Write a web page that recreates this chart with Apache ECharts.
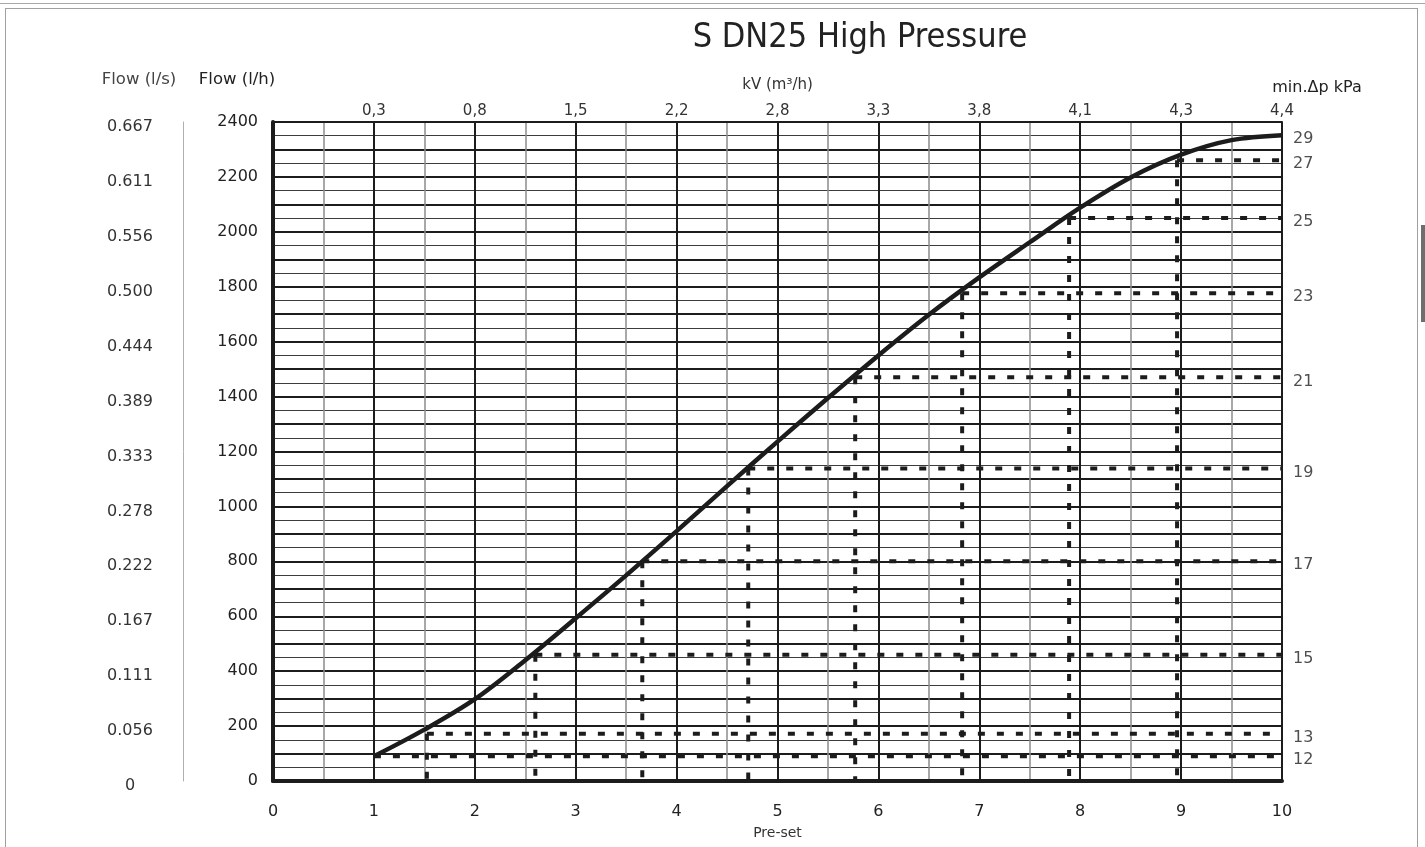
<!DOCTYPE html>
<html>
<head>
<meta charset="utf-8">
<title>S DN25 High Pressure</title>
<script src="https://cdn.jsdelivr.net/npm/echarts@6/dist/echarts.min.js"></script>
<style>
  html, body { margin: 0; padding: 0; background: #fff; overflow: hidden; }
  #topRule { position: absolute; left: 0; top: 3px; width: 1425px; height: 0; border-top: 1px solid #a8a8a8; }
  #frame { position: absolute; left: 5px; top: 8px; width: 1411px; height: 900px; border: 1px solid #a0a0a0; border-bottom: none; }
  #thumb { position: absolute; left: 1421px; top: 225px; width: 4px; height: 97px; background: #6e6e6e; }
  #chart { position: absolute; left: 0; top: 0; width: 1425px; height: 847px; }
</style>
</head>
<body>
<div id="topRule"></div>
<div id="frame"></div>
<div id="thumb"></div>
<div id="chart"></div>
<script>
// Flow curve: pre-set position vs flow (l/h)
const curvePreset = [1, 1.5, 2, 2.5, 3, 3.5, 4, 4.5, 5, 5.5, 6, 6.5, 7, 7.5, 8, 8.5, 9, 9.5, 10];
const curveFlow   = [90, 187, 298, 440, 593, 749, 910, 1074, 1236, 1395, 1550, 1698, 1834, 1962, 2088, 2198, 2281, 2334, 2352];

// Guide lines for each preset: start position, flow level, and min. Δp (kPa)
const guidePreset = [1, 1.525, 2.6, 3.66, 4.71, 5.77, 6.83, 7.89, 8.96];
const guideFlow   = [90, 172, 460, 800, 1138, 1470, 1776, 2050, 2261];
const guideDp     = [12, 13, 15, 17, 19, 21, 23, 25, 27];

// Δp at the fully open end of the curve
const endFlow = 2352;
const endDp = 29;

// Tick labels
const kvTicks = ['', '0,3', '0,8', '1,5', '2,2', '2,8', '3,3', '3,8', '4,1', '4,3', '4,4'];
const flowLsTicks = ['0', '0.056', '0.111', '0.167', '0.222', '0.278', '0.333', '0.389', '0.444', '0.500', '0.556', '0.611', '0.667'];

const FONT = '"DejaVu Sans", Verdana, sans-serif';
const INK = '#1c1c1c';

const chart = echarts.init(document.getElementById('chart'), null, { renderer: 'canvas' });

// dotted guide segments: horizontal to the right edge, vertical down to zero
const dash = [7, 12];
const guideSeries = [];
guidePreset.forEach((p, i) => {
  const f = guideFlow[i];
  guideSeries.push({
    type: 'line', xAxisIndex: 0, yAxisIndex: 0, symbol: 'none', silent: true, z: 3,
    data: [[p, f], [10, f]],
    lineStyle: { color: INK, width: 4, type: dash }
  });
  if (i > 0) {
    guideSeries.push({
      type: 'line', xAxisIndex: 0, yAxisIndex: 0, symbol: 'none', silent: true, z: 3,
      data: [[p, f], [p, 0]],
      lineStyle: { color: INK, width: 4, type: dash }
    });
  }
});

const dpPoints = guideFlow.map((f, i) => ({ value: [10, f], dp: guideDp[i] }));
dpPoints.push({ value: [10, endFlow], dp: endDp });

chart.setOption({
  animation: false,
  backgroundColor: 'transparent',
  textStyle: { fontFamily: FONT },
  grid: { left: 273, right: 143, top: 122, bottom: 66 },
  xAxis: [
    {
      type: 'value', position: 'bottom', min: 0, max: 10, interval: 1,
      name: 'Pre-set', nameLocation: 'middle', nameGap: 45,
      nameTextStyle: { fontFamily: FONT, fontSize: 14, color: '#333' },
      axisLine: { show: true, onZero: false, lineStyle: { color: INK, width: 4 } },
      axisTick: { show: false },
      axisLabel: { margin: 23, fontSize: 16, color: '#222', fontFamily: FONT },
      splitLine: { show: true, lineStyle: { color: INK, width: 2 } },
      minorTick: { show: false, splitNumber: 2 },
      minorSplitLine: { show: true, lineStyle: { color: '#8c8c8c', width: 1.5 } }
    },
    {
      type: 'value', position: 'top', min: 0, max: 10, interval: 1,
      name: 'kV (m³/h)', nameLocation: 'middle', nameGap: 29,
      nameTextStyle: { fontFamily: FONT, fontSize: 15, color: '#333' },
      axisLine: { show: true, onZero: false, lineStyle: { color: INK, width: 2 } },
      axisTick: { show: false },
      axisLabel: {
        margin: 3, fontSize: 15, color: '#333', fontFamily: FONT,
        formatter: v => kvTicks[Math.round(v)] || ''
      },
      splitLine: { show: false }
    }
  ],
  yAxis: [
    {
      type: 'value', position: 'left', min: 0, max: 2400, interval: 100,
      axisLine: { show: true, onZero: false, lineStyle: { color: INK, width: 4 } },
      axisTick: { show: false },
      axisLabel: {
        margin: 15, fontSize: 16, color: '#222', fontFamily: FONT,
        formatter: v => (v % 200 === 0 ? String(v) : '')
      },
      splitLine: { show: true, lineStyle: { color: INK, width: 2 } },
      minorTick: { show: false, splitNumber: 2 },
      minorSplitLine: { show: true, lineStyle: { color: '#3c3c3c', width: 1 } }
    },
    {
      type: 'value', position: 'left', offset: 90, min: 0, max: 2400, interval: 200,
      axisLine: { show: true, onZero: false, lineStyle: { color: '#b0b0b0', width: 1 } },
      axisTick: { show: false },
      axisLabel: {
        margin: 53, align: 'center', verticalAlign: 'top', lineHeight: 10,
        fontSize: 16, color: '#333', fontFamily: FONT,
        formatter: v => flowLsTicks[Math.round(v / 200)]
      },
      splitLine: { show: false }
    }
  ],
  graphic: [
    { type: 'text', z: 10, style: { text: 'S DN25 High Pressure', x: 860, y: 38, textAlign: 'center', textVerticalAlign: 'middle', font: 'normal 34px "DejaVu Sans Condensed", "DejaVu Sans", sans-serif', fill: '#222' } },
    { type: 'text', z: 10, style: { text: 'Flow (l/s)', x: 139, y: 80, textAlign: 'center', textVerticalAlign: 'middle', font: 'normal 16.5px ' + FONT, fill: '#444' } },
    { type: 'text', z: 10, style: { text: 'Flow (l/h)', x: 237, y: 80, textAlign: 'center', textVerticalAlign: 'middle', font: 'normal 16.5px ' + FONT, fill: '#222' } },
    { type: 'text', z: 10, style: { text: 'min.Δp kPa', x: 1317, y: 88, textAlign: 'center', textVerticalAlign: 'middle', font: 'normal 16px ' + FONT, fill: '#222' } }
  ],
  series: [
    ...guideSeries,
    {
      type: 'line', xAxisIndex: 0, yAxisIndex: 0, symbol: 'none',
      smooth: 0.35, z: 5, silent: true,
      data: curvePreset.map((p, i) => [p, curveFlow[i]]),
      lineStyle: { color: INK, width: 4.5 }
    },
    {
      type: 'scatter', xAxisIndex: 0, yAxisIndex: 0, symbolSize: 0, silent: true, z: 6,
      data: dpPoints,
      label: {
        show: true, position: 'right', distance: 11, offset: [0, 4],
        fontSize: 16, color: '#222', fontFamily: FONT,
        formatter: p => String(p.data.dp)
      }
    }
  ]
});
</script>
</body>
</html>
